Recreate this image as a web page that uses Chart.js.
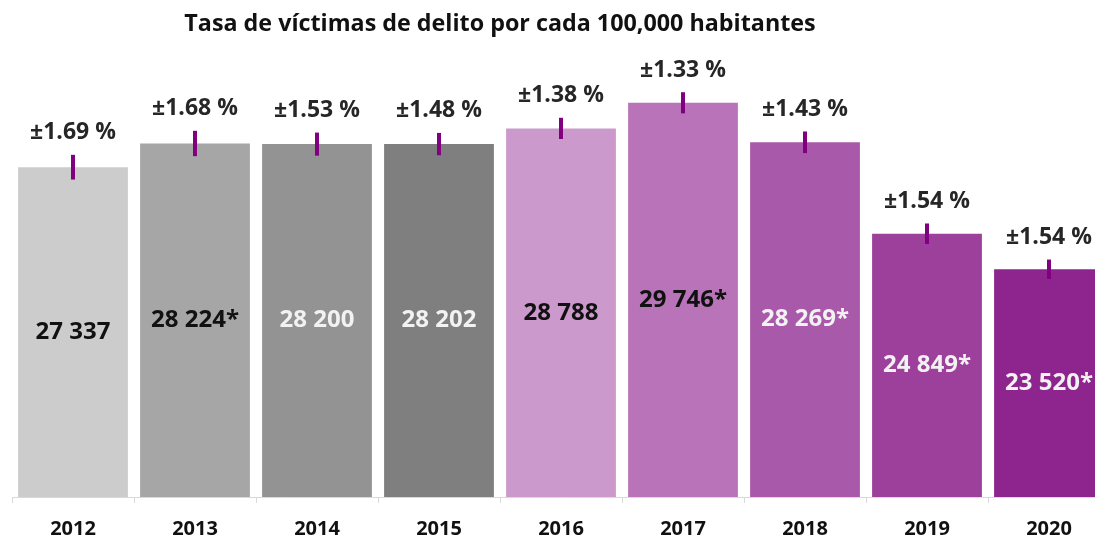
<!DOCTYPE html>
<html>
<head>
<meta charset="utf-8">
<script src="https://cdn.jsdelivr.net/npm/chart.js@4"></script>
<style>
  html, body { margin: 0; padding: 0; background: #fff; overflow: hidden; }
  #wrap { position: relative; width: 1110px; height: 537px; }
  #title {
    position: absolute; left: 0; width: 1000px; top: 6px;
    text-align: center; font-family: "Open Sans", sans-serif; font-weight: bold;
    font-size: 23.3px; color: #111;
  }
</style>
</head>
<body>
<div id="wrap">
  <canvas id="chart" width="1110" height="537"></canvas>
  <div id="title">Tasa de víctimas de delito por cada 100,000 habitantes</div>
</div>
<script>
const years = ["2012","2013","2014","2015","2016","2017","2018","2019","2020"];
const rates = [27337, 28224, 28200, 28202, 28788, 29746, 28269, 24849, 23520];
const errPct = [1.69, 1.68, 1.53, 1.48, 1.38, 1.33, 1.43, 1.54, 1.54];
const significant = [false, true, false, false, false, true, true, true, true];
const barColors = ["#cccccc","#a6a6a6","#939393","#7f7f7f","#cc99cc","#b974b9","#a959a9","#9c409c","#8e248e"];
const labelColors = ["#111","#111","#f2f2f2","#f2f2f2","#111","#111","#f2f2f2","#f2f2f2","#f2f2f2"];

const fmt = v => String(v).replace(/\B(?=(\d{3})+(?!\d))/g, " ");

// error bars + labels drawn on top of the bars
const barLabels = {
  id: 'barLabels',
  afterDatasetsDraw(chart) {
    const ctx = chart.ctx;
    const y = chart.scales.y;
    const meta = chart.getDatasetMeta(0);
    ctx.save();
    ctx.textAlign = 'center';
    ctx.textBaseline = 'middle';
    meta.data.forEach((bar, i) => {
      const v = rates[i];
      const hi = y.getPixelForValue(v * (1 + errPct[i] / 100));
      const lo = y.getPixelForValue(v * (1 - errPct[i] / 100));
      ctx.strokeStyle = '#800080';
      ctx.lineWidth = 4;
      ctx.beginPath();
      ctx.moveTo(bar.x, lo);
      ctx.lineTo(bar.x, hi);
      ctx.stroke();

      ctx.font = 'bold 23px "Open Sans"';
      ctx.fillStyle = '#262626';
      ctx.fillText('±' + errPct[i].toFixed(2) + ' %', bar.x, hi - 22);

      ctx.font = 'bold 24px "Open Sans"';
      ctx.fillStyle = labelColors[i];
      ctx.fillText(fmt(v) + (significant[i] ? '*' : ''), bar.x, (bar.y + y.bottom) / 2);
    });
    ctx.restore();
  }
};

const ctxt = document.getElementById('chart').getContext('2d');
const myChart = new Chart(ctxt, {
  type: 'bar',
  data: {
    labels: years,
    datasets: [{
      data: rates,
      backgroundColor: barColors,
      borderWidth: 0,
      barPercentage: 0.9,
      categoryPercentage: 1.0
    }]
  },
  options: {
    responsive: false,
    animation: false,
    layout: { padding: { top: 96, left: 12, right: 0, bottom: 0 } },
    plugins: {
      legend: { display: false },
      tooltip: { enabled: false },
      title: { display: false }
    },
    scales: {
      x: {
        grid: { display: true, drawOnChartArea: false, tickLength: 6, color: '#d9d9d9', offset: true },
        border: { color: '#d9d9d9', width: 1 },
        ticks: { color: '#111', padding: 16, font: { family: 'Open Sans', weight: 'bold', size: 20, lineHeight: 1 } },
        afterFit: s => { s.height = 40; }
      },
      y: {
        display: false,
        min: 15000,
        max: 30000
      }
    }
  },
  plugins: [barLabels]
});
</script>
</body>
</html>
